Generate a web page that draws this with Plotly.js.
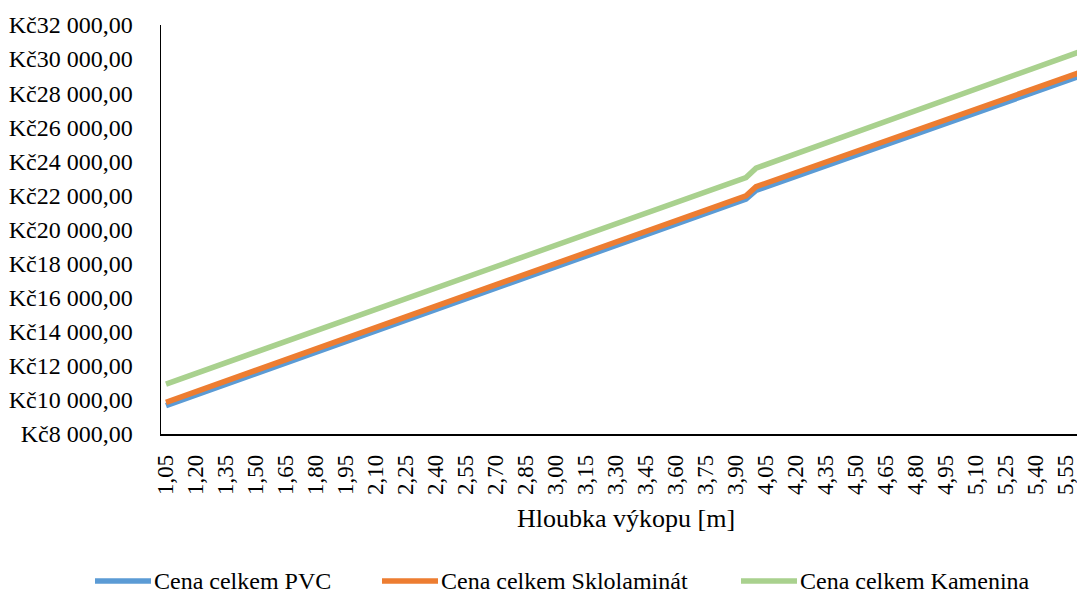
<!DOCTYPE html>
<html>
<head>
<meta charset="utf-8">
<script src="https://cdn.plot.ly/plotly-3.0.1.min.js"></script>
<style>
  html, body { margin: 0; padding: 0; background: #fff; }
  #chart { width: 1077px; height: 594px; }
</style>
</head>
<body>
<div id="chart"></div>
<script>
// Excavation depth [m]
const depths = [
  "1,05","1,10","1,15","1,20","1,25","1,30","1,35","1,40","1,45","1,50",
  "1,55","1,60","1,65","1,70","1,75","1,80","1,85","1,90","1,95","2,00",
  "2,05","2,10","2,15","2,20","2,25","2,30","2,35","2,40","2,45","2,50",
  "2,55","2,60","2,65","2,70","2,75","2,80","2,85","2,90","2,95","3,00",
  "3,05","3,10","3,15","3,20","3,25","3,30","3,35","3,40","3,45","3,50",
  "3,55","3,60","3,65","3,70","3,75","3,80","3,85","3,90","3,95","4,00",
  "4,05","4,10","4,15","4,20","4,25","4,30","4,35","4,40","4,45","4,50",
  "4,55","4,60","4,65","4,70","4,75","4,80","4,85","4,90","4,95","5,00",
  "5,05","5,10","5,15","5,20","5,25","5,30","5,35","5,40","5,45","5,50",
  "5,55","5,60","5,65"
];

// Total price – PVC pipe
const cenaPVC = [
  9660, 9869,10078,10287,10496,10705,10914,11123,11332,11541,
  11750,11959,12168,12377,12586,12795,13004,13213,13422,13631,
  13840,14049,14258,14467,14676,14885,15094,15303,15512,15721,
  15930,16139,16348,16557,16766,16975,17184,17393,17602,17811,
  18020,18229,18438,18647,18856,19065,19274,19483,19692,19901,
  20110,20319,20528,20737,20946,21155,21364,21573,21782,22295,
  22502,22709,22916,23123,23330,23537,23744,23951,24158,24365,
  24572,24779,24986,25193,25400,25607,25814,26021,26228,26435,
  26642,26849,27056,27263,27470,27677,27884,28091,28298,28505,
  28712,28919,29126
];

// Total price – fibreglass (sklolaminát) pipe
const cenaSklolaminat = [
  9860,10069,10278,10487,10696,10905,11114,11323,11532,11741,
  11950,12159,12368,12577,12786,12995,13204,13413,13622,13831,
  14040,14249,14458,14667,14876,15085,15294,15503,15712,15921,
  16130,16339,16548,16757,16966,17175,17384,17593,17802,18011,
  18220,18429,18638,18847,19056,19265,19474,19683,19892,20101,
  20310,20519,20728,20937,21146,21355,21564,21773,21982,22510,
  22717,22924,23131,23338,23545,23752,23959,24166,24373,24580,
  24787,24994,25201,25408,25615,25822,26029,26236,26443,26650,
  26857,27064,27271,27478,27685,27892,28099,28306,28513,28720,
  28927,29134,29341
];

// Total price – vitrified clay (kamenina) pipe
const cenaKamenina = [
  10930,11139,11348,11557,11766,11975,12184,12393,12602,12811,
  13020,13229,13438,13647,13856,14065,14274,14483,14692,14901,
  15110,15319,15528,15737,15946,16155,16364,16573,16782,16991,
  17200,17409,17618,17827,18036,18245,18454,18663,18872,19081,
  19290,19499,19708,19917,20126,20335,20544,20753,20962,21171,
  21380,21589,21798,22007,22216,22425,22634,22843,23052,23600,
  23811,24022,24233,24444,24655,24866,25077,25288,25499,25710,
  25921,26132,26343,26554,26765,26976,27187,27398,27609,27820,
  28031,28242,28453,28664,28875,29086,29297,29508,29719,29930,
  30141,30352,30563
];

const seriesNames = ["Cena celkem PVC", "Cena celkem Sklolaminát", "Cena celkem Kamenina"];
const seriesColors = ["#5B9BD5", "#ED7D31", "#A9D18E"];

const yTickValues = [8000,10000,12000,14000,16000,18000,20000,22000,24000,26000,28000,30000,32000];

// "Kč32 000,00" style currency labels
function fmtKc(v) {
  const s = String(Math.round(v)).replace(/\B(?=(\d{3})+(?!\d))/g, " ");
  return "Kč" + s + ",00";
}

// every third depth is labelled on the axis
const xTickValues = depths.filter((d, i) => i % 3 === 0);

const FONT = "Liberation Serif";
const W = 1077, H = 594;
const M = { l: 161, r: 0, t: 25, b: 160 };
const plotW = W - M.l - M.r, plotH = H - M.t - M.b;

// pixel position on the page -> paper coordinates
const px = v => (v - M.l) / plotW;
const py = v => (H - M.b - v) / plotH;

const seriesData = [cenaPVC, cenaSklolaminat, cenaKamenina];
const traces = seriesData.map((vals, k) => ({
  type: "scatter",
  mode: "lines",
  x: depths,
  y: vals,
  name: seriesNames[k],
  line: { color: seriesColors[k], width: 5.5 },
  hoverinfo: "x+y+name"
}));

// bottom legend row: a short swatch line followed by the series name
const legendRowY = 581;
const legendSwatchX = [95, 382, 741];
const legendSwatchLen = 56;

const legendShapes = seriesNames.map((n, k) => ({
  type: "line",
  xref: "paper", yref: "paper",
  x0: px(legendSwatchX[k]), x1: px(legendSwatchX[k] + legendSwatchLen),
  y0: py(legendRowY), y1: py(legendRowY),
  line: { color: seriesColors[k], width: 5.5 }
}));

const legendLabels = seriesNames.map((n, k) => ({
  text: n,
  xref: "paper", yref: "paper",
  x: px(legendSwatchX[k] + legendSwatchLen + 1), y: py(legendRowY),
  xanchor: "left", yanchor: "middle",
  showarrow: false,
  font: { family: FONT, size: 24, color: "#000" }
}));

const layout = {
  width: W,
  height: H,
  margin: { l: M.l, r: M.r, t: M.t, b: M.b, pad: 0, autoexpand: false },
  paper_bgcolor: "#fff",
  plot_bgcolor: "#fff",
  font: { family: FONT, size: 24, color: "#000" },
  showlegend: false,
  xaxis: {
    type: "category",
    range: [-0.5, 91.1],
    tickmode: "array",
    tickvals: xTickValues,
    ticktext: xTickValues,
    tickangle: -90,
    ticks: "",
    showgrid: false,
    zeroline: false,
    showline: true,
    linecolor: "#000",
    linewidth: 1.5,
    ticklabelstandoff: 10,
    tickfont: { family: FONT, size: 23, color: "#000" }
  },
  yaxis: {
    range: [8000, 32000],
    tickmode: "array",
    tickvals: yTickValues,
    ticktext: yTickValues.map(fmtKc),
    ticks: "",
    showgrid: false,
    zeroline: false,
    showline: true,
    linecolor: "#000",
    linewidth: 1.5,
    ticklabelstandoff: 22,
    tickfont: { family: FONT, size: 24, color: "#000" }
  },
  shapes: legendShapes,
  annotations: [{
    text: "Hloubka výkopu [m]",
    xref: "paper", yref: "paper",
    x: px(626), y: py(518),
    xanchor: "center", yanchor: "middle",
    showarrow: false,
    font: { family: FONT, size: 26, color: "#000" }
  }].concat(legendLabels)
};

Plotly.newPlot("chart", traces, layout, { displayModeBar: false, staticPlot: true });
</script>
</body>
</html>
